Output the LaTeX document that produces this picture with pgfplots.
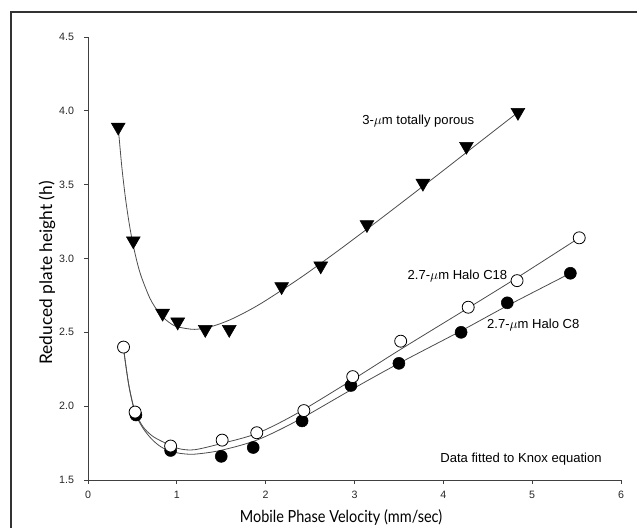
\documentclass[border=0pt]{standalone}
\usepackage{fontspec}
\setmainfont{Liberation Sans}
\newfontfamily\ylabfont{Lato}
\newfontfamily\xlabfont[FakeStretch=0.87]{Lato}
\usepackage{pgfplots}
\pgfplotsset{compat=1.18}
\begin{document}
\begin{tikzpicture}
\path[use as bounding box] (-66pt,-36pt) rectangle (411.75pt,360pt);
\draw[line width=1.1pt, black!80] (-57.75pt,-40pt) -- (-57.75pt,351pt) -- (415pt,351pt);
\begin{axis}[
  at={(0pt,0pt)}, anchor=south west,
  scale only axis, width=399.75pt, height=332.25pt,
  xmin=0, xmax=6, ymin=1.5, ymax=4.5,
  axis x line=bottom, axis y line=left,
  axis line style={-, black!75, line width=0.6pt},
  xtick={0,1,2,3,4,5,6}, ytick={1.5,2,2.5,3,3.5,4,4.5},
  tick align=outside, major tick length=3pt,
  tick style={black!75, line width=0.6pt},
  ticklabel style={font=\fontsize{8}{9}\selectfont, text=black!85},
  /pgf/number format/assume math mode=true,
  xticklabel style={yshift=-2pt},
  yticklabel style={xshift=-4pt, /pgf/number format/.cd, fixed, fixed zerofill, precision=1},
  xlabel={Mobile Phase Velocity (mm/sec)},
  ylabel={Reduced plate height (h)},
  xlabel style={font=\xlabfont\fontsize{12.5}{14}\selectfont, at={([yshift=-27.75pt]axis description cs:0.4747,0)}, anchor=center},
  ylabel style={font=\ylabfont\fontsize{13}{15}\selectfont, at={([xshift=-30.75pt]axis description cs:0,0.4673)}, anchor=center},
  clip=false,
]
% fitted curves
\addplot[no marks, smooth, line width=0.6pt, black!70] coordinates {
(0.34,3.890)(0.38,3.625)(0.42,3.417)(0.46,3.251)(0.50,3.116)(0.55,2.982)(0.60,2.877)(0.70,2.727)(0.80,2.632)(0.90,2.573)(1.00,2.539)(1.20,2.520)(1.40,2.541)(1.60,2.585)(1.80,2.645)(2.00,2.715)(2.40,2.873)(2.80,3.046)(3.20,3.226)(3.60,3.410)(4.00,3.596)(4.40,3.784)(4.84,3.990)};
\addplot[no marks, smooth, line width=0.6pt, black!70] coordinates {
(0.40,2.39)(0.46,2.14)(0.53,1.965)(0.62,1.86)(0.72,1.80)(0.82,1.765)(0.93,1.735)(1.04,1.71)(1.20,1.705)(1.49,1.745)(1.90,1.815)(2.35,1.95)(2.98,2.18)(3.52,2.385)(4.28,2.665)(4.83,2.87)(5.53,3.14)};
\addplot[no marks, smooth, line width=0.6pt, black!70] coordinates {
(0.40,2.39)(0.46,2.14)(0.53,1.955)(0.62,1.85)(0.72,1.775)(0.82,1.725)(0.93,1.695)(1.04,1.68)(1.20,1.675)(1.49,1.70)(1.90,1.77)(2.35,1.90)(2.96,2.11)(3.50,2.29)(4.20,2.51)(4.72,2.68)(5.43,2.90)};
% 3-um totally porous
\addplot[only marks, mark=triangle*, mark size=6pt, mark options={rotate=180, fill=black, draw=black}] coordinates {
(0.34,3.89)(0.51,3.12)(0.84,2.63)(1.01,2.57)(1.32,2.52)(1.59,2.52)(2.18,2.81)(2.62,2.95)(3.14,3.23)(3.77,3.51)(4.26,3.76)(4.84,3.99)};
% Halo C8
\addplot[only marks, mark=*, mark size=4.5pt, mark options={fill=black, draw=black}] coordinates {
(0.54,1.94)(0.93,1.70)(1.50,1.66)(1.86,1.72)(2.41,1.90)(2.96,2.14)(3.50,2.29)(4.20,2.50)(4.72,2.70)(5.43,2.90)};
% Halo C18
\addplot[only marks, mark=*, mark size=4.5pt, mark options={fill=white, draw=black, line width=0.6pt}] coordinates {
(0.40,2.40)(0.53,1.96)(0.93,1.73)(1.51,1.77)(1.90,1.82)(2.43,1.97)(2.98,2.20)(3.52,2.44)(4.28,2.67)(4.83,2.85)(5.53,3.14)};
\node[anchor=west, inner sep=0pt, font=\fontsize{9.8}{11}\selectfont] at (axis cs:3.085,3.927) {3-$\mu$m totally porous};
\node[anchor=west, inner sep=0pt, font=\fontsize{9.8}{11}\selectfont] at (axis cs:3.596,2.884) {2.7-$\mu$m Halo C18};
\node[anchor=west, inner sep=0pt, font=\fontsize{9.8}{11}\selectfont] at (axis cs:4.49,2.55) {2.7-$\mu$m Halo C8};
\node[anchor=west, inner sep=0pt, font=\fontsize{9.8}{11}\selectfont] at (axis cs:3.964,1.643) {Data fitted to Knox equation};
\end{axis}
\end{tikzpicture}
\end{document}
